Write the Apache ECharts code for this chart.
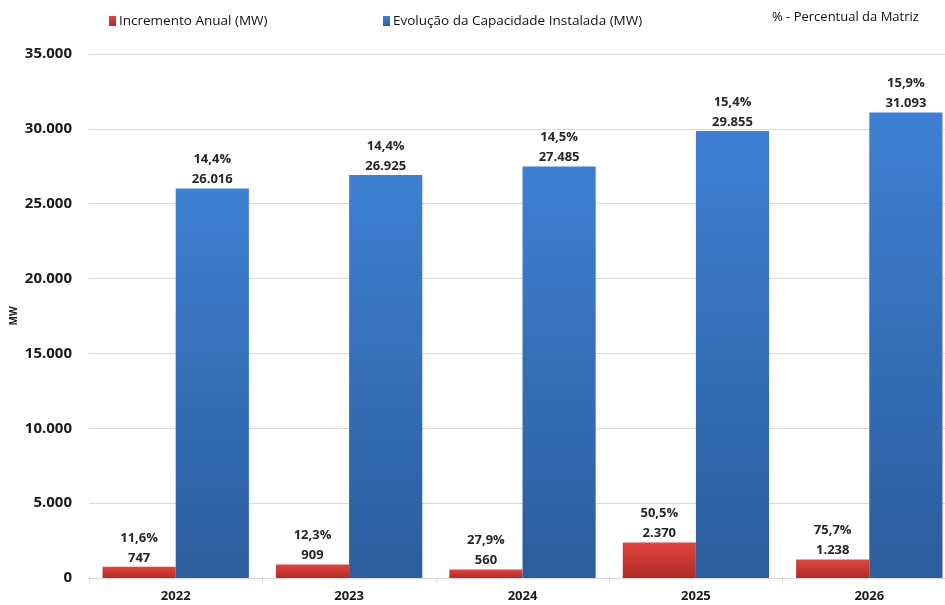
<!DOCTYPE html>
<html>
<head>
<meta charset="utf-8">
<script src="https://cdn.jsdelivr.net/npm/echarts@6/dist/echarts.min.js"></script>
<style>
  html, body { margin: 0; padding: 0; background: #fff; }
  #chart { width: 945px; height: 605px; }
</style>
</head>
<body>
<div id="chart"></div>
<script>
// Annual capacity data (MW) and share of the national matrix
const years = ['2022', '2023', '2024', '2025', '2026'];
const incremento = [747, 909, 560, 2370, 1238];
const incrementoPct = ['11,6%', '12,3%', '27,9%', '50,5%', '75,7%'];
const capacidade = [26016, 26925, 27485, 29855, 31093];
const capacidadePct = ['14,4%', '14,4%', '14,5%', '15,4%', '15,9%'];
const yTicks = { min: 0, max: 35000, interval: 5000 };

const FONT = '"Open Sans", "DejaVu Sans", sans-serif';

function fmt(v) {
  return String(v).replace(/\B(?=(\d{3})+(?!\d))/g, '.');
}

function grad(top, bottom) {
  return new echarts.graphic.LinearGradient(0, 0, 0, 1, [
    { offset: 0, color: top },
    { offset: 1, color: bottom }
  ]);
}

const labelStyle = (pcts) => ({
  show: true,
  position: 'top',
  distance: -1,
  color: '#262626',
  fontFamily: FONT,
  fontWeight: 'bold',
  fontSize: 13,
  lineHeight: 20,
  formatter: (p) => pcts[p.dataIndex] + '\n' + fmt(p.value)
});

const chart = echarts.init(document.getElementById('chart'));
chart.setOption({
  animation: false,
  textStyle: { fontFamily: FONT },
  legend: [
    {
      data: ['Incremento Anual (MW)'],
      left: 104, top: 9,
      icon: 'rect', itemWidth: 7, itemHeight: 10, itemGap: 4,
      textStyle: { fontFamily: FONT, fontSize: 13.5, color: '#111', padding: [0, 0, 0, -2] }
    },
    {
      data: ['Evolução da Capacidade Instalada (MW)'],
      left: 378, top: 9,
      icon: 'rect', itemWidth: 7, itemHeight: 10,
      textStyle: { fontFamily: FONT, fontSize: 13.5, color: '#111', padding: [0, 0, 0, -2] }
    }
  ],
  graphic: [
    {
      type: 'text', left: 772, top: 11,
      style: { text: '% - Percentual da Matriz', font: '13px ' + FONT, fill: '#111' }
    },
    {
      // vertical axis title
      type: 'text', x: 14, y: 316, rotation: Math.PI / 2,
      style: {
        text: 'MW', font: 'bold 10px ' + FONT, fill: '#1a1a1a',
        align: 'center', verticalAlign: 'middle'
      }
    }
  ],
  grid: { left: 89, right: -11, top: 54, bottom: 27, containLabel: false, outerBoundsMode: 'none' },
  xAxis: {
    type: 'category',
    data: years,
    axisLine: { lineStyle: { color: '#d9d9d9' } },
    axisTick: { show: true, length: 5, lineStyle: { color: '#d9d9d9' } },
    axisLabel: { color: '#1a1a1a', fontWeight: 'bold', fontSize: 13, margin: 12, fontFamily: FONT }
  },
  yAxis: {
    type: 'value',
    min: yTicks.min, max: yTicks.max, interval: yTicks.interval,
    axisLine: { show: false },
    axisTick: { show: false },
    splitLine: { lineStyle: { color: '#d9d9d9' } },
    axisLabel: {
      color: '#1a1a1a', fontWeight: 'bold', fontSize: 15, margin: 17, fontFamily: FONT,
      formatter: (v) => fmt(v)
    }
  },
  series: [
    {
      name: 'Incremento Anual (MW)',
      type: 'bar',
      data: incremento,
      barGap: '0%',
      barCategoryGap: '15.6%',
      itemStyle: { color: grad('#e0453f', '#b02b28') },
      label: labelStyle(incrementoPct)
    },
    {
      name: 'Evolução da Capacidade Instalada (MW)',
      type: 'bar',
      data: capacidade,
      barGap: '0%',
      barCategoryGap: '15.6%',
      itemStyle: { color: grad('#3e80d3', '#2c5d9c') },
      label: labelStyle(capacidadePct)
    }
  ]
});
</script>
</body>
</html>
